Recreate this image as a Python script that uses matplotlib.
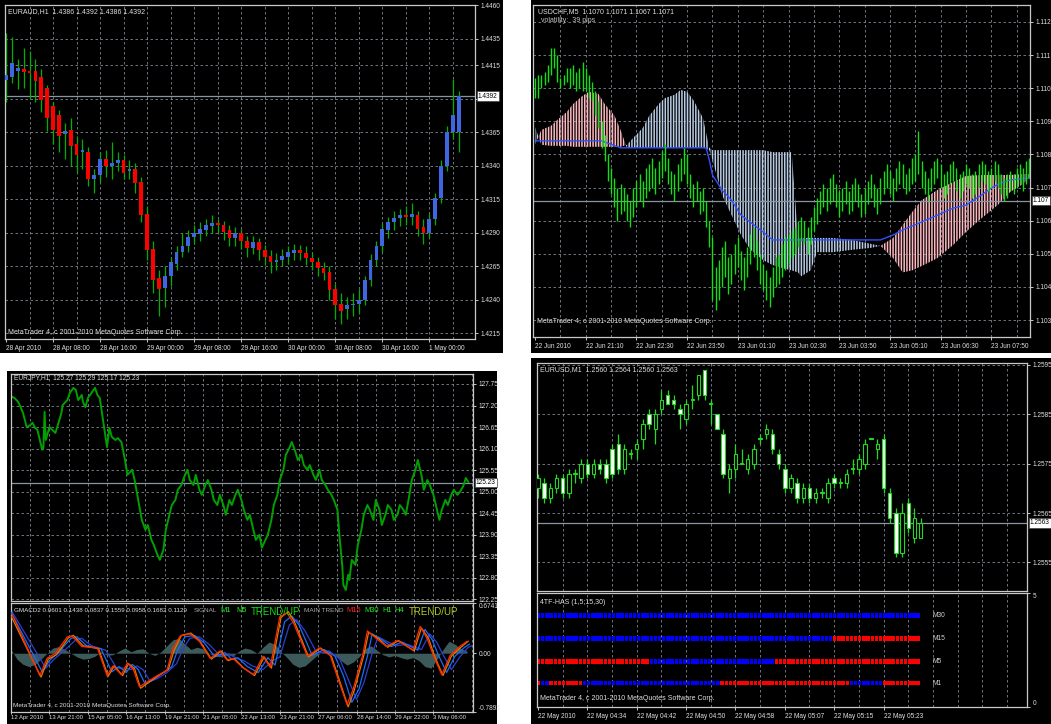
import numpy as np
import matplotlib.pyplot as plt
from matplotlib.patches import Rectangle

plt.rcParams['font.family'] = ['Liberation Sans', 'DejaVu Sans']
plt.rcParams['hatch.linewidth'] = 1.1

# ---------------- data ----------------
# EURAUD H1 candles (top left)
euraud_open = [1.4404, 1.4406, 1.4411, 1.4412, 1.4411, 1.4411, 1.4406, 1.4398, 1.4385, 1.4378,
               1.4364, 1.4367, 1.4356, 1.4350, 1.4350, 1.4330, 1.4333, 1.4345, 1.4340, 1.4342,
               1.4344, 1.4336, 1.4338, 1.4328, 1.4304, 1.4278, 1.4256, 1.4249, 1.4258, 1.4267,
               1.4276, 1.4280, 1.4287, 1.4289, 1.4292, 1.4295, 1.4297, 1.4296, 1.4292, 1.4286,
               1.4290, 1.4284, 1.4279, 1.4283, 1.4277, 1.4273, 1.4268, 1.4270, 1.4272, 1.4275,
               1.4277, 1.4275, 1.4271, 1.4268, 1.4264, 1.4261, 1.4248, 1.4237, 1.4233, 1.4236,
               1.4237, 1.4240, 1.4255, 1.4270, 1.4280, 1.4292, 1.4298, 1.4301, 1.4303, 1.4302,
               1.4303, 1.4294, 1.4290, 1.4300, 1.4316, 1.4340, 1.4365, 1.4365]
euraud_close = [1.4408, 1.4417, 1.4413, 1.4410, 1.4409, 1.4403, 1.4389, 1.4376, 1.4367, 1.4362,
                1.4366, 1.4355, 1.4348, 1.4352, 1.4330, 1.4333, 1.4345, 1.4340, 1.4342, 1.4344,
                1.4335, 1.4338, 1.4327, 1.4303, 1.4277, 1.4255, 1.4248, 1.4258, 1.4268, 1.4276,
                1.4280, 1.4287, 1.4290, 1.4293, 1.4296, 1.4297, 1.4296, 1.4291, 1.4286, 1.4290,
                1.4284, 1.4279, 1.4283, 1.4277, 1.4272, 1.4268, 1.4270, 1.4273, 1.4276, 1.4277,
                1.4275, 1.4271, 1.4268, 1.4264, 1.4260, 1.4247, 1.4236, 1.4232, 1.4236, 1.4237,
                1.4240, 1.4255, 1.4270, 1.4280, 1.4293, 1.4298, 1.4301, 1.4303, 1.4302, 1.4304,
                1.4293, 1.4290, 1.4300, 1.4316, 1.4340, 1.4365, 1.4378, 1.4392]
euraud_high = [1.4439, 1.4436, 1.4420, 1.4428, 1.4426, 1.4420, 1.4412, 1.4400, 1.4388, 1.4382,
               1.4372, 1.4376, 1.4362, 1.4360, 1.4354, 1.4338, 1.4350, 1.4352, 1.4358, 1.4350,
               1.4348, 1.4344, 1.4342, 1.4332, 1.4310, 1.4284, 1.4262, 1.4265, 1.4272, 1.4280,
               1.4290, 1.4292, 1.4296, 1.4298, 1.4300, 1.4303, 1.4300, 1.4299, 1.4296, 1.4294,
               1.4293, 1.4288, 1.4288, 1.4286, 1.4281, 1.4277, 1.4275, 1.4278, 1.4280, 1.4282,
               1.4281, 1.4280, 1.4275, 1.4272, 1.4268, 1.4265, 1.4252, 1.4245, 1.4242, 1.4245,
               1.4248, 1.4258, 1.4274, 1.4284, 1.4297, 1.4302, 1.4306, 1.4308, 1.4310, 1.4312,
               1.4306, 1.4300, 1.4304, 1.4320, 1.4344, 1.4370, 1.4405, 1.4396]
euraud_low = [1.4388, 1.4402, 1.4397, 1.4398, 1.4390, 1.4388, 1.4380, 1.4366, 1.4356, 1.4350,
              1.4345, 1.4340, 1.4335, 1.4338, 1.4325, 1.4320, 1.4328, 1.4332, 1.4330, 1.4336,
              1.4330, 1.4330, 1.4320, 1.4298, 1.4270, 1.4245, 1.4228, 1.4235, 1.4250, 1.4262,
              1.4272, 1.4276, 1.4282, 1.4284, 1.4288, 1.4290, 1.4290, 1.4285, 1.4280, 1.4280,
              1.4278, 1.4272, 1.4274, 1.4270, 1.4266, 1.4260, 1.4262, 1.4265, 1.4267, 1.4270,
              1.4270, 1.4266, 1.4262, 1.4258, 1.4255, 1.4240, 1.4226, 1.4222, 1.4226, 1.4228,
              1.4230, 1.4236, 1.4250, 1.4265, 1.4276, 1.4286, 1.4292, 1.4295, 1.4296, 1.4296,
              1.4288, 1.4282, 1.4286, 1.4296, 1.4312, 1.4336, 1.4360, 1.4350]
euraud_dates = ['28 Apr 2010', '28 Apr 08:00', '28 Apr 16:00', '29 Apr 00:00', '29 Apr 08:00',
                '29 Apr 16:00', '30 Apr 00:00', '30 Apr 08:00', '30 Apr 16:00', '1 May 00:00']
euraud_levels = [1.4460, 1.4435, 1.4415, 1.4390, 1.4365, 1.4340, 1.4315, 1.4290, 1.4265, 1.4240, 1.4215]

# USDCHF M5 bars + ichimoku cloud (top right)
usdchf_low = [1.1097, 1.1097, 1.1100, 1.1101, 1.1102, 1.1104, 1.1106, 1.1102, 1.1100, 1.1101,
              1.1102, 1.1100, 1.1101, 1.1099, 1.1100, 1.1099, 1.1099, 1.1097, 1.1096, 1.1092,
              1.1088, 1.1082, 1.1078, 1.1072, 1.1068, 1.1064, 1.1060, 1.1062, 1.1063, 1.1060,
              1.1058, 1.1061, 1.1064, 1.1066, 1.1064, 1.1067, 1.1069, 1.1070, 1.1068, 1.1071,
              1.1073, 1.1075, 1.1071, 1.1068, 1.1066, 1.1069, 1.1072, 1.1074, 1.1071, 1.1067,
              1.1064, 1.1066, 1.1062, 1.1063, 1.1058, 1.1052, 1.1036, 1.1033, 1.1036, 1.1040,
              1.1043, 1.1038, 1.1041, 1.1044, 1.1046, 1.1042, 1.1039, 1.1043, 1.1047, 1.1049,
              1.1045, 1.1041, 1.1039, 1.1036, 1.1034, 1.1037, 1.1040, 1.1041, 1.1043, 1.1045,
              1.1047, 1.1049, 1.1050, 1.1052, 1.1054, 1.1053, 1.1050, 1.1053, 1.1057, 1.1059,
              1.1062, 1.1064, 1.1063, 1.1065, 1.1066, 1.1064, 1.1061, 1.1063, 1.1065, 1.1062,
              1.1063, 1.1066, 1.1064, 1.1061, 1.1062, 1.1065, 1.1067, 1.1064, 1.1062, 1.1065,
              1.1068, 1.1070, 1.1068, 1.1066, 1.1069, 1.1071, 1.1070, 1.1068, 1.1069, 1.1071,
              1.1072, 1.1074, 1.1070, 1.1068, 1.1066, 1.1069, 1.1071, 1.1073, 1.1070, 1.1067,
              1.1068, 1.1071, 1.1072, 1.1069, 1.1067, 1.1069, 1.1071, 1.1070, 1.1067, 1.1068,
              1.1070, 1.1072, 1.1071, 1.1069, 1.1070, 1.1072, 1.1070, 1.1068, 1.1066, 1.1067,
              1.1069, 1.1068, 1.1070, 1.1071, 1.1069, 1.1071, 1.1073]
usdchf_high = [1.1103, 1.1104, 1.1104, 1.1105, 1.1107, 1.1112, 1.1112, 1.1110, 1.1103, 1.1104,
               1.1106, 1.1106, 1.1107, 1.1105, 1.1106, 1.1108, 1.1106, 1.1104, 1.1102, 1.1099,
               1.1096, 1.1090, 1.1086, 1.1080, 1.1076, 1.1073, 1.1070, 1.1071, 1.1070, 1.1068,
               1.1066, 1.1070, 1.1072, 1.1074, 1.1072, 1.1076, 1.1077, 1.1079, 1.1076, 1.1078,
               1.1081, 1.1083, 1.1079, 1.1075, 1.1074, 1.1077, 1.1079, 1.1082, 1.1080, 1.1074,
               1.1071, 1.1072, 1.1069, 1.1070, 1.1066, 1.1060, 1.1055, 1.1046, 1.1048, 1.1052,
               1.1054, 1.1049, 1.1050, 1.1053, 1.1055, 1.1051, 1.1049, 1.1052, 1.1056, 1.1058,
               1.1054, 1.1050, 1.1047, 1.1045, 1.1043, 1.1046, 1.1049, 1.1050, 1.1053, 1.1055,
               1.1056, 1.1057, 1.1058, 1.1060, 1.1061, 1.1060, 1.1058, 1.1061, 1.1064, 1.1067,
               1.1069, 1.1071, 1.1070, 1.1073, 1.1074, 1.1071, 1.1069, 1.1070, 1.1072, 1.1069,
               1.1071, 1.1073, 1.1071, 1.1068, 1.1070, 1.1072, 1.1074, 1.1071, 1.1070, 1.1073,
               1.1075, 1.1077, 1.1075, 1.1073, 1.1076, 1.1078, 1.1077, 1.1074, 1.1076, 1.1079,
               1.1080, 1.1087, 1.1078, 1.1075, 1.1073, 1.1076, 1.1078, 1.1079, 1.1077, 1.1074,
               1.1075, 1.1077, 1.1078, 1.1076, 1.1074, 1.1075, 1.1077, 1.1076, 1.1074, 1.1075,
               1.1077, 1.1078, 1.1077, 1.1075, 1.1076, 1.1078, 1.1077, 1.1074, 1.1073, 1.1074,
               1.1075, 1.1074, 1.1076, 1.1077, 1.1076, 1.1078, 1.1079]
cloud_bar = [0, 2, 5, 7, 10, 12, 15, 17, 20, 22, 25, 27, 29, 31, 34, 36, 39, 41, 44, 46,
             48, 50, 53, 55, 56, 59, 62, 65, 68, 72, 75, 78, 81, 83, 84, 87, 89, 94, 100, 106,
             109, 113, 116, 119, 122, 127, 132, 136, 141, 146, 150, 154, 156]
span_a = [1.10883, 1.10829, 1.10826, 1.10826, 1.10826, 1.10823, 1.10823, 1.10823, 1.10823, 1.10823,
          1.10823, 1.10823, 1.10829, 1.10850, 1.10880, 1.10916, 1.10952, 1.10970, 1.10980, 1.10995,
          1.10989, 1.10964, 1.10910, 1.10820, 1.10813, 1.10813, 1.10813, 1.10813, 1.10813, 1.10813,
          1.10807, 1.10807, 1.10807, 1.10548, 1.10548, 1.10548, 1.10548, 1.10548, 1.10542, 1.10530,
          1.10524, 1.10487, 1.10444, 1.10450, 1.10463, 1.10487, 1.10527, 1.10566, 1.10608, 1.10647,
          1.10687, 1.10711, 1.10729]
span_b = [1.10829, 1.10874, 1.10886, 1.10904, 1.10928, 1.10952, 1.10977, 1.10989, 1.10983, 1.10952,
          1.10919, 1.10874, 1.10820, 1.10820, 1.10820, 1.10820, 1.10820, 1.10820, 1.10820, 1.10820,
          1.10820, 1.10820, 1.10820, 1.10813, 1.10783, 1.10678, 1.10617, 1.10557, 1.10512, 1.10481,
          1.10466, 1.10457, 1.10450, 1.10444, 1.10432, 1.10450, 1.10505, 1.10505, 1.10512, 1.10518,
          1.10524, 1.10548, 1.10587, 1.10626, 1.10662, 1.10693, 1.10717, 1.10735, 1.10738, 1.10738,
          1.10738, 1.10741, 1.10741]
kijun_bar = [0, 21, 27, 54, 55, 56, 59, 62, 65, 72, 75, 81, 109, 113, 116, 119, 122, 127, 132,
             136, 141, 144, 147, 150, 156]
kijun = [1.10841, 1.10841, 1.10820, 1.10820, 1.10783, 1.10738, 1.10693, 1.10662, 1.10617, 1.10566,
         1.10542, 1.10542, 1.10542, 1.10557, 1.10572, 1.10584, 1.10596, 1.10617, 1.10638, 1.10647,
         1.10678, 1.10699, 1.10714, 1.10723, 1.10729]
usdchf_dates = ['22 Jun 2010', '22 Jun 21:10', '22 Jun 22:30', '22 Jun 23:50', '23 Jun 01:10',
                '23 Jun 02:30', '23 Jun 03:50', '23 Jun 05:10', '23 Jun 06:30', '23 Jun 07:50']
usdchf_levels = [1.112, 1.111, 1.110, 1.109, 1.108, 1.107, 1.106, 1.105, 1.104, 1.103]

# EURJPY H1 line + GMACD2 (bottom left)
jpy_bar = [1, 3, 6, 8, 10, 12, 13, 16, 18, 20, 22, 26, 27, 28, 29, 32, 37, 39, 42, 43,
           47, 49, 52, 54, 56, 59, 60, 62, 64, 67, 70, 72, 74, 77, 80, 82, 84, 87, 89, 92,
           95, 97, 101, 103, 106, 109, 112, 114, 117, 119, 122, 124, 127, 129, 132, 134, 137, 139, 142, 144,
           147, 149, 152, 154, 157, 159, 162, 164, 167, 169, 172, 174, 177, 179, 182, 184, 187, 189, 192, 194,
           197, 199, 202, 204, 207, 209, 212, 214, 217, 219, 222, 224, 227, 229, 232, 234, 237, 239, 242, 244,
           247, 249, 252, 254, 257, 259, 262, 264, 267, 269, 272, 274, 276, 277, 279, 281, 282, 284, 287, 289,
           292, 294, 297, 299, 302, 304, 307, 309, 312, 314, 317, 319, 322, 324, 327, 329, 332, 334, 337, 339,
           342, 344, 347, 349, 352, 354, 357, 359, 362, 364, 367, 369, 372, 374, 377, 379, 381]
jpy_close = [127.42, 127.39, 127.29, 127.16, 127.01, 126.78, 126.65, 126.70, 126.76, 126.63,
             126.58, 126.07, 126.12, 127.04, 126.32, 126.65, 126.50, 126.70, 127.01, 127.21,
             127.34, 127.52, 127.65, 127.60, 127.34, 127.47, 127.29, 127.16, 127.39, 127.52,
             127.65, 127.47, 127.39, 126.76, 126.14, 126.63, 126.40, 126.32, 126.37, 126.27,
             125.81, 125.43, 125.56, 125.30, 124.79, 124.28, 124.03, 124.15, 123.77, 123.64,
             123.39, 123.26, 123.52, 124.03, 124.41, 124.66, 124.79, 125.05, 125.17, 125.35,
             125.56, 125.30, 125.17, 125.43, 125.05, 124.92, 125.17, 125.30, 125.05, 124.79,
             124.66, 124.92, 124.66, 124.41, 124.79, 124.66, 124.92, 125.05, 124.79, 124.54,
             124.28, 124.41, 124.03, 123.77, 123.90, 123.57, 123.77, 123.90, 124.28, 124.66,
             124.92, 125.30, 125.56, 125.94, 126.12, 126.27, 126.02, 125.81, 125.94, 125.68,
             125.56, 125.68, 125.43, 125.30, 125.56, 125.30, 125.17, 125.05, 124.92, 124.79,
             124.54, 123.77, 123.13, 122.62, 122.49, 122.88, 122.75, 123.26, 123.13, 123.64,
             124.03, 124.41, 124.66, 124.54, 124.28, 124.79, 124.54, 124.15, 124.41, 124.66,
             124.54, 124.28, 124.41, 124.66, 124.54, 124.41, 124.92, 125.30, 125.56, 125.81,
             125.43, 125.05, 125.30, 125.17, 124.92, 124.66, 124.28, 124.54, 124.79, 124.66,
             124.92, 125.05, 124.92, 124.99, 125.15, 125.35, 125.25]
jpy_levels = [127.75, 127.20, 126.65, 126.10, 125.55, 125.00, 124.45, 123.90, 123.35, 122.80, 122.25]
jpy_dates = ['12 Apr 2010', '13 Apr 21:00', '15 Apr 05:00', '16 Apr 13:00', '19 Apr 21:00',
             '21 Apr 05:00', '22 Apr 13:00', '23 Apr 21:00', '27 Apr 06:00', '28 Apr 14:00',
             '29 Apr 22:00', '3 May 06:00']

hist_bar = np.arange(0, 381, 5)
hist_val = [0.05, -0.08, -0.15, -0.18, -0.15, -0.08, 0.0, 0.07, 0.09, 0.05,
            0.0, -0.05, -0.08, -0.07, -0.04, 0.02, -0.03, -0.02, 0.03, 0.07,
            0.02, 0.05, 0.06, 0.0, -0.03, 0.02, 0.10, 0.18, 0.20, 0.12,
            0.05, 0.08, 0.06, 0.0, -0.04, -0.05, -0.02, -0.04, 0.03, 0.07,
            0.05, 0.0, 0.08, 0.15, 0.12, 0.02, -0.06, -0.15, -0.19, -0.17,
            -0.10, -0.03, 0.02, 0.04, -0.02, -0.10, -0.16, -0.12, -0.05, 0.06,
            0.10, 0.04, -0.02, -0.05, -0.03, -0.06, -0.08, -0.06, -0.10, -0.18,
            -0.20, -0.08, 0.05, 0.16, 0.12, 0.06, 0.03]
navy_bar = [0, 29, 36, 44, 54, 59, 67, 79, 88, 95, 100, 105, 110, 116, 122, 130, 138, 143, 149, 157,
            165, 174, 182, 188, 194, 201, 210, 218, 224, 232, 238, 245, 255, 265, 274, 281, 288, 294, 301, 306,
            313, 321, 330, 342, 349, 355, 360, 367, 374, 381, 384]
navy_val = [0.58, -0.20, -0.08, 0.03, 0.18, 0.20, 0.10, 0.04, -0.20, -0.20, -0.22, -0.17, -0.22, -0.38, -0.34,
            -0.26, -0.14, 0.05, 0.20, 0.22, 0.12, -0.03, -0.01, -0.07, -0.10, -0.17, -0.22, -0.10, -0.05, 0.38,
            0.45, 0.30, 0.00, 0.03, -0.08, -0.35, -0.62, -0.40, 0.00, 0.22, 0.16, 0.10, 0.12, 0.05, 0.26,
            0.14, -0.02, -0.22, -0.05, 0.08, 0.10]
blue_bar = [0, 26, 32, 40, 50, 55, 63, 75, 84, 90, 96, 101, 106, 112, 118, 126, 134, 139, 145, 153,
            161, 170, 178, 184, 189, 197, 206, 214, 220, 228, 234, 240, 251, 261, 270, 277, 284, 290, 297, 301,
            309, 317, 326, 339, 345, 351, 356, 363, 370, 378, 382]
blue_val = [0.55, -0.25, -0.10, 0.02, 0.20, 0.22, 0.10, 0.06, -0.25, -0.18, -0.26, -0.15, -0.22, -0.42, -0.36,
            -0.27, -0.18, 0.05, 0.22, 0.24, 0.14, -0.05, 0.01, -0.08, -0.06, -0.18, -0.26, -0.06, -0.16, 0.42,
            0.50, 0.38, -0.03, 0.05, -0.04, -0.30, -0.66, -0.48, -0.04, 0.26, 0.18, 0.09, 0.15, 0.04, 0.32,
            0.18, -0.02, -0.26, -0.04, 0.08, 0.12]
orange_bar = [0, 25, 31, 38, 48, 52, 60, 73, 81, 86, 93, 98, 103, 108, 114, 123, 131, 136, 142, 150,
              158, 167, 175, 181, 186, 194, 203, 211, 217, 225, 231, 236, 248, 258, 267, 273, 281, 286, 294, 298,
              306, 314, 323, 336, 342, 348, 353, 360, 367, 375, 381]
orange_val = [0.50, -0.32, -0.08, -0.02, 0.21, 0.24, 0.10, 0.06, -0.31, -0.17, -0.30, -0.14, -0.21, -0.47, -0.40,
              -0.30, -0.22, 0.04, 0.24, 0.27, 0.15, -0.08, 0.03, -0.10, -0.07, -0.20, -0.30, -0.05, -0.20, 0.48,
              0.56, 0.43, -0.05, 0.07, -0.04, -0.33, -0.72, -0.50, -0.03, 0.28, 0.20, 0.08, 0.17, 0.03, 0.34,
              0.20, -0.04, -0.30, -0.04, 0.08, 0.16]
red_bar = [1, 24, 30, 37, 47, 51, 59, 72, 80, 85, 92, 97, 102, 107, 113, 122, 130, 135, 141, 149,
           157, 166, 174, 180, 185, 193, 202, 210, 216, 224, 230, 235, 247, 257, 266, 272, 280, 285, 293, 297,
           305, 313, 322, 335, 341, 347, 352, 359, 366, 374, 380]
red_val = [0.52, -0.30, -0.07, 0.0, 0.22, 0.23, 0.09, 0.07, -0.30, -0.17, -0.29, -0.13, -0.22, -0.45, -0.39,
           -0.30, -0.23, 0.07, 0.23, 0.26, 0.16, -0.07, 0.03, -0.09, -0.07, -0.19, -0.29, -0.04, -0.19, 0.49,
           0.54, 0.42, -0.04, 0.07, -0.03, -0.32, -0.69, -0.49, -0.03, 0.30, 0.19, 0.09, 0.17, 0.04, 0.36,
           0.19, -0.03, -0.29, -0.03, 0.09, 0.16]

# EURUSD M1 candles + 4TF-HAS (bottom right)
eurusd_open = [1.2570, 1.2571, 1.2568, 1.2570, 1.2572, 1.2569, 1.2573, 1.2572, 1.2575, 1.2573,
               1.2575, 1.2575, 1.2578, 1.2579, 1.2574, 1.2577, 1.2578, 1.2580, 1.2585, 1.2582,
               1.2586, 1.2589, 1.2588, 1.2586, 1.2584, 1.2588, 1.2589, 1.2594, 1.2587, 1.2585,
               1.2581, 1.2572, 1.2574, 1.2575, 1.2574, 1.2575, 1.2580, 1.2581, 1.2581, 1.2577,
               1.2574, 1.2570, 1.2571, 1.2568, 1.2570, 1.2568, 1.2569, 1.2568, 1.2572, 1.2571,
               1.2571, 1.2574, 1.2574, 1.2575, 1.2580, 1.2578, 1.2580, 1.2569, 1.2565, 1.2557,
               1.2567, 1.2560, 1.2560]
eurusd_high = [1.2573, 1.2572, 1.2571, 1.2573, 1.2573, 1.2574, 1.2574, 1.2576, 1.2576, 1.2576,
               1.2576, 1.2576, 1.2579, 1.2581, 1.2579, 1.2578, 1.2580, 1.2584, 1.2586, 1.2586,
               1.2590, 1.2590, 1.2589, 1.2587, 1.2588, 1.2591, 1.2593, 1.2594, 1.2588, 1.2585,
               1.2582, 1.2575, 1.2579, 1.2578, 1.2577, 1.2579, 1.2581, 1.2583, 1.2582, 1.2578,
               1.2575, 1.2573, 1.2572, 1.2571, 1.2571, 1.2570, 1.2570, 1.2572, 1.2573, 1.2572,
               1.2574, 1.2576, 1.2577, 1.2580, 1.2580, 1.2580, 1.2581, 1.2570, 1.2566, 1.2567,
               1.2568, 1.2566, 1.2564]
eurusd_low = [1.2568, 1.2567, 1.2567, 1.2569, 1.2568, 1.2568, 1.2571, 1.2571, 1.2572, 1.2572,
              1.2573, 1.2571, 1.2572, 1.2573, 1.2573, 1.2576, 1.2576, 1.2578, 1.2582, 1.2579,
              1.2585, 1.2587, 1.2586, 1.2582, 1.2583, 1.2586, 1.2588, 1.2588, 1.2583, 1.2582,
              1.2572, 1.2569, 1.2572, 1.2575, 1.2573, 1.2574, 1.2579, 1.2580, 1.2577, 1.2574,
              1.2569, 1.2569, 1.2567, 1.2567, 1.2567, 1.2567, 1.2568, 1.2567, 1.2570, 1.2570,
              1.2570, 1.2573, 1.2573, 1.2574, 1.2580, 1.2576, 1.2569, 1.2563, 1.2556, 1.2556,
              1.2561, 1.2559, 1.2560]
eurusd_close = [1.2572, 1.2568, 1.2570, 1.2572, 1.2569, 1.2573, 1.2573, 1.2575, 1.2573, 1.2575,
                1.2574, 1.2572, 1.2573, 1.2574, 1.2578, 1.2577, 1.2579, 1.2583, 1.2583, 1.2585,
                1.2588, 1.2587, 1.2587, 1.2585, 1.2587, 1.2588, 1.2593, 1.2589, 1.2587, 1.2582,
                1.2573, 1.2574, 1.2577, 1.2575, 1.2576, 1.2578, 1.2580, 1.2582, 1.2578, 1.2575,
                1.2570, 1.2572, 1.2568, 1.2570, 1.2568, 1.2569, 1.2569, 1.2571, 1.2571, 1.2571,
                1.2573, 1.2574, 1.2576, 1.2579, 1.2580, 1.2579, 1.2570, 1.2564, 1.2557, 1.2565,
                1.2562, 1.2564, 1.2563]
eurusd_levels = [1.2595, 1.2585, 1.2575, 1.2565, 1.2555]
eurusd_dates = ['22 May 2010', '22 May 04:34', '22 May 04:42', '22 May 04:50', '22 May 04:58',
                '22 May 05:07', '22 May 05:15', '22 May 05:23']
has_rows = ['M30', 'M15', 'M5', 'M1']
has_runs = {
    'M30': [('b', 92)],
    'M15': [('b', 71), ('r', 21)],
    'M5': [('r', 27), ('b', 30), ('r', 35)],
    'M1': [('r', 1), ('b', 2), ('r', 8), ('b', 33), ('r', 31), ('b', 8), ('r', 9)],
}

# ---------------- drawing ----------------
W, H = 1051, 724
FRAME = '#c8c8c8'
GRID = '#7d8792'
TXT = '#e0e0e0'
FS = 4.7

fig = plt.figure(figsize=(W / 100, H / 100), dpi=100)
fig.patch.set_facecolor('white')


def rect(x0, y0, x1, y1):
    return [x0 / W, 1 - y1 / H, (x1 - x0) / W, (y1 - y0) / H]


def put(x, y, s, color=TXT, size=5, **kw):
    fig.text(x / W, 1 - y / H, s, color=color, fontsize=size, ha='left', va='center', **kw)


for x0, y0, x1, y1 in [(0, 0, 503, 353), (531, 0, 1051, 353), (7, 371, 497, 724), (531, 358, 1051, 724)]:
    fig.add_artist(Rectangle((x0 / W, 1 - y1 / H), (x1 - x0) / W, (y1 - y0) / H,
                             transform=fig.transFigure, facecolor='black', edgecolor='none', zorder=-5))


def chart(box, xlim, ylim, grid_x, ticks_x=None, dates=None, levels=None, fmt='%.4f'):
    ax = fig.add_axes(rect(*box))
    ax.set_facecolor('black')
    ax.set_xlim(*xlim)
    ax.set_ylim(*ylim)
    for sp in ax.spines.values():
        sp.set_color(FRAME)
        sp.set_linewidth(0.9)
    ax.yaxis.tick_right()
    ax.xaxis.remove_overlapping_locs = False
    ax.tick_params(which='major', colors=FRAME, labelcolor=TXT, labelsize=FS,
                   length=2.5, width=0.7, pad=1.5)
    ax.tick_params(which='minor', length=0)
    ax.set_xticks(grid_x, minor=True)
    ax.grid(axis='x', which='minor', color=GRID, lw=0.6, ls=(0, (3, 3)))
    if ticks_x is not None:
        ax.set_xticks(ticks_x)
        ax.set_xticklabels(dates)
        for t in ax.get_xticklabels():
            t.set_ha('left')
    else:
        ax.set_xticks([])
    if levels is not None:
        ax.set_yticks(levels)
        ax.set_yticklabels([fmt % v for v in levels])
        ax.grid(axis='y', which='major', color=GRID, lw=0.6, ls=(0, (3, 3)))
    else:
        ax.set_yticks([])
    ax.set_axisbelow(True)
    return ax


def price_box(ax, p, s):
    ax.axhline(p, color='#8896a4', lw=0.9, zorder=1)
    ax.text(1.006, p, s, transform=ax.get_yaxis_transform(),
            ha='left', va='center', fontsize=FS, color='black', zorder=10,
            bbox=dict(boxstyle='square,pad=0.18', fc='white', ec='#404040', lw=0.5))


# --- EURAUD ---
ax1 = chart((5, 5, 475, 339), (-0.17, 79.76), (1.42108, 1.4460),
            np.arange(4, 80, 4), np.arange(0, 73, 8), euraud_dates, euraud_levels)
# the 1.4390 label sits under the price box, as in MT4
ax1.set_yticklabels(['' if abs(v - 1.4390) < 1e-6 else '%.4f' % v for v in euraud_levels])
k = np.arange(len(euraud_close))
o, c = np.array(euraud_open), np.array(euraud_close)
ax1.vlines(k, euraud_low, euraud_high, color='#00b000', lw=0.9, zorder=2)
ax1.bar(k, np.maximum(np.abs(c - o), 0.00008), bottom=np.minimum(o, c), width=0.64,
        color=np.where(c >= o, '#3f66e0', '#ff0000'), zorder=3)
price_box(ax1, 1.4392, '1.4392')
put(8, 12, 'EURAUD,H1  1.4386 1.4392 1.4386 1.4392')
put(8, 333, 'MetaTrader 4, c 2001-2010 MetaQuotes Software Corp.')

# --- USDCHF ---
ax2 = chart((533, 5, 1030, 337), (-0.63, 156.2), (1.10249, 1.11251),
            np.arange(8, 157, 8), np.arange(0, 145, 16), usdchf_dates, usdchf_levels, fmt='%.3f')
sa, sb = np.array(span_a), np.array(span_b)
ax2.fill_between(cloud_bar, sa, sb, where=sa >= sb, interpolate=True, facecolor='none',
                 edgecolor='#b8cce6', hatch='||||||', lw=0, zorder=1)
ax2.fill_between(cloud_bar, sa, sb, where=sa <= sb, interpolate=True, facecolor='none',
                 edgecolor='#ffb8c0', hatch='||||||', lw=0, zorder=1)
ax2.plot(kijun_bar, kijun, color='#3050ff', lw=1.0, zorder=2)
ax2.vlines(np.arange(len(usdchf_low)), usdchf_low, usdchf_high, color='#10e010', lw=1.0, zorder=3)
price_box(ax2, 1.1066, '1.107')
put(538, 12, 'USDCHF,M5  1.1070 1.1071 1.1067 1.1071')
put(541, 21, 'volatility:  39 pips', color='#c0c0c0')
put(537, 322, 'MetaTrader 4, c 2001-2010 MetaQuotes Software Corp.')

# --- EURJPY ---
ax3 = chart((11, 374, 473, 601), (0, 385), (122.21, 128.005),
            np.arange(16, 386, 16), None, None, jpy_levels, fmt='%.2f')
ax3.plot(jpy_bar, jpy_close, color='#00a000', lw=1.4, zorder=2)
price_box(ax3, 125.23, '125.23')
put(14, 378, 'EURJPY,H1  125.27 125.29 125.17 125.23', size=4.8)

ax3b = chart((11, 603, 473, 712), (0, 385), (-0.7893, 0.6741),
             np.arange(16, 386, 16), np.arange(0, 353, 32), jpy_dates,
             [0.6741, 0.0, -0.7893])
ax3b.set_yticklabels(['0.6741', '0.00', '-0.7893'])
ax3b.grid(axis='y', visible=False)
ax3b.tick_params(axis='x', pad=0.8, length=1.6, labelsize=4.3)
labs = ax3b.get_yticklabels()
labs[0].set_va('top')
labs[-1].set_va('bottom')
ax3b.fill_between(hist_bar, 0, hist_val, color='#3d5a5a', lw=0, zorder=1)
ax3b.plot(navy_bar, navy_val, color='#2a40d0', lw=0.9, zorder=2)
ax3b.plot(blue_bar, blue_val, color='#1a6cff', lw=0.9, zorder=3)
ax3b.plot(orange_bar, orange_val, color='#e07a00', lw=0.9, zorder=4)
ax3b.plot(red_bar, red_val, color='#ff2a00', lw=0.9, zorder=5)
put(14, 610, 'GMACD2 0.0601 0.1438 0.0837 0.1559 0.0958 0.1682 0.1129', size=4.5)
put(194, 611, 'SIGNAL', color='#a8a8a8', size=4.6)
put(220, 611, 'M1', color='#22ee22', size=5.4)
put(236, 611, 'M5', color='#22ee22', size=5.4)
put(251, 612, 'TREND/UP', color='#11dd11', size=7)
put(304, 611, 'MAIN TREND', color='#a8a8a8', size=4.6)
put(346, 611, 'M15', color='#ff2020', size=5.4)
put(364, 611, 'M30', color='#22ee22', size=5.4)
put(382, 611, 'H1', color='#22ee22', size=5.4)
put(394, 611, 'H4', color='#22ee22', size=5.4)
put(409, 612, 'TREND/UP', color='#b4cc1e', size=7)
put(13, 706, 'MetaTrader 4, c 2001-2010 MetaQuotes Software Corp.', size=4.6)

# --- EURUSD ---
ax4 = chart((537, 363, 1027, 591), (-0.16, 79.25), (1.25492, 1.25954),
            np.arange(4, 80, 4), None, None, eurusd_levels)
k = np.arange(len(eurusd_close))
o, c = np.array(eurusd_open), np.array(eurusd_close)
ax4.vlines(k, eurusd_low, eurusd_high, color='#22d822', lw=0.9, zorder=2)
ax4.bar(k, np.maximum(np.abs(c - o), 0.00002), bottom=np.minimum(o, c), width=0.55,
        color=np.where(c >= o, 'black', 'white'), edgecolor='#22d822', lw=0.8, zorder=3)
price_box(ax4, 1.2563, '1.2563')
put(540, 370, 'EURUSD,M1  1.2560 1.2564 1.2560 1.2563')

ax4b = chart((537, 593, 1027, 707), (-0.16, 79.25), (0, 5),
             np.arange(4, 80, 4), np.arange(0, 57, 8), eurusd_dates, [5, 0], fmt='%d')
ax4b.grid(axis='y', visible=False)
labs = ax4b.get_yticklabels()
labs[0].set_va('top')
labs[-1].set_va('bottom')
sq_x = np.arange(92) * 0.676 + 0.1
for row, name in zip([4.0, 3.0, 2.0, 1.05], has_rows):
    cols = []
    for col, n in has_runs[name]:
        cols += [{'b': '#0000ff', 'r': '#ff0000'}[col]] * n
    ax4b.bar(sq_x, 0.21, bottom=row - 0.105, width=0.55, color=cols, zorder=2)
    ax4b.text(63.9, row, name, color='#d0d0d0', fontsize=4.8, va='center', ha='left')
put(540, 603, '4TF-HAS (1,5;15,30)')
put(540, 698, 'MetaTrader 4, c 2001-2010 MetaQuotes Software Corp.')

fig.savefig('out.png', dpi=100)
